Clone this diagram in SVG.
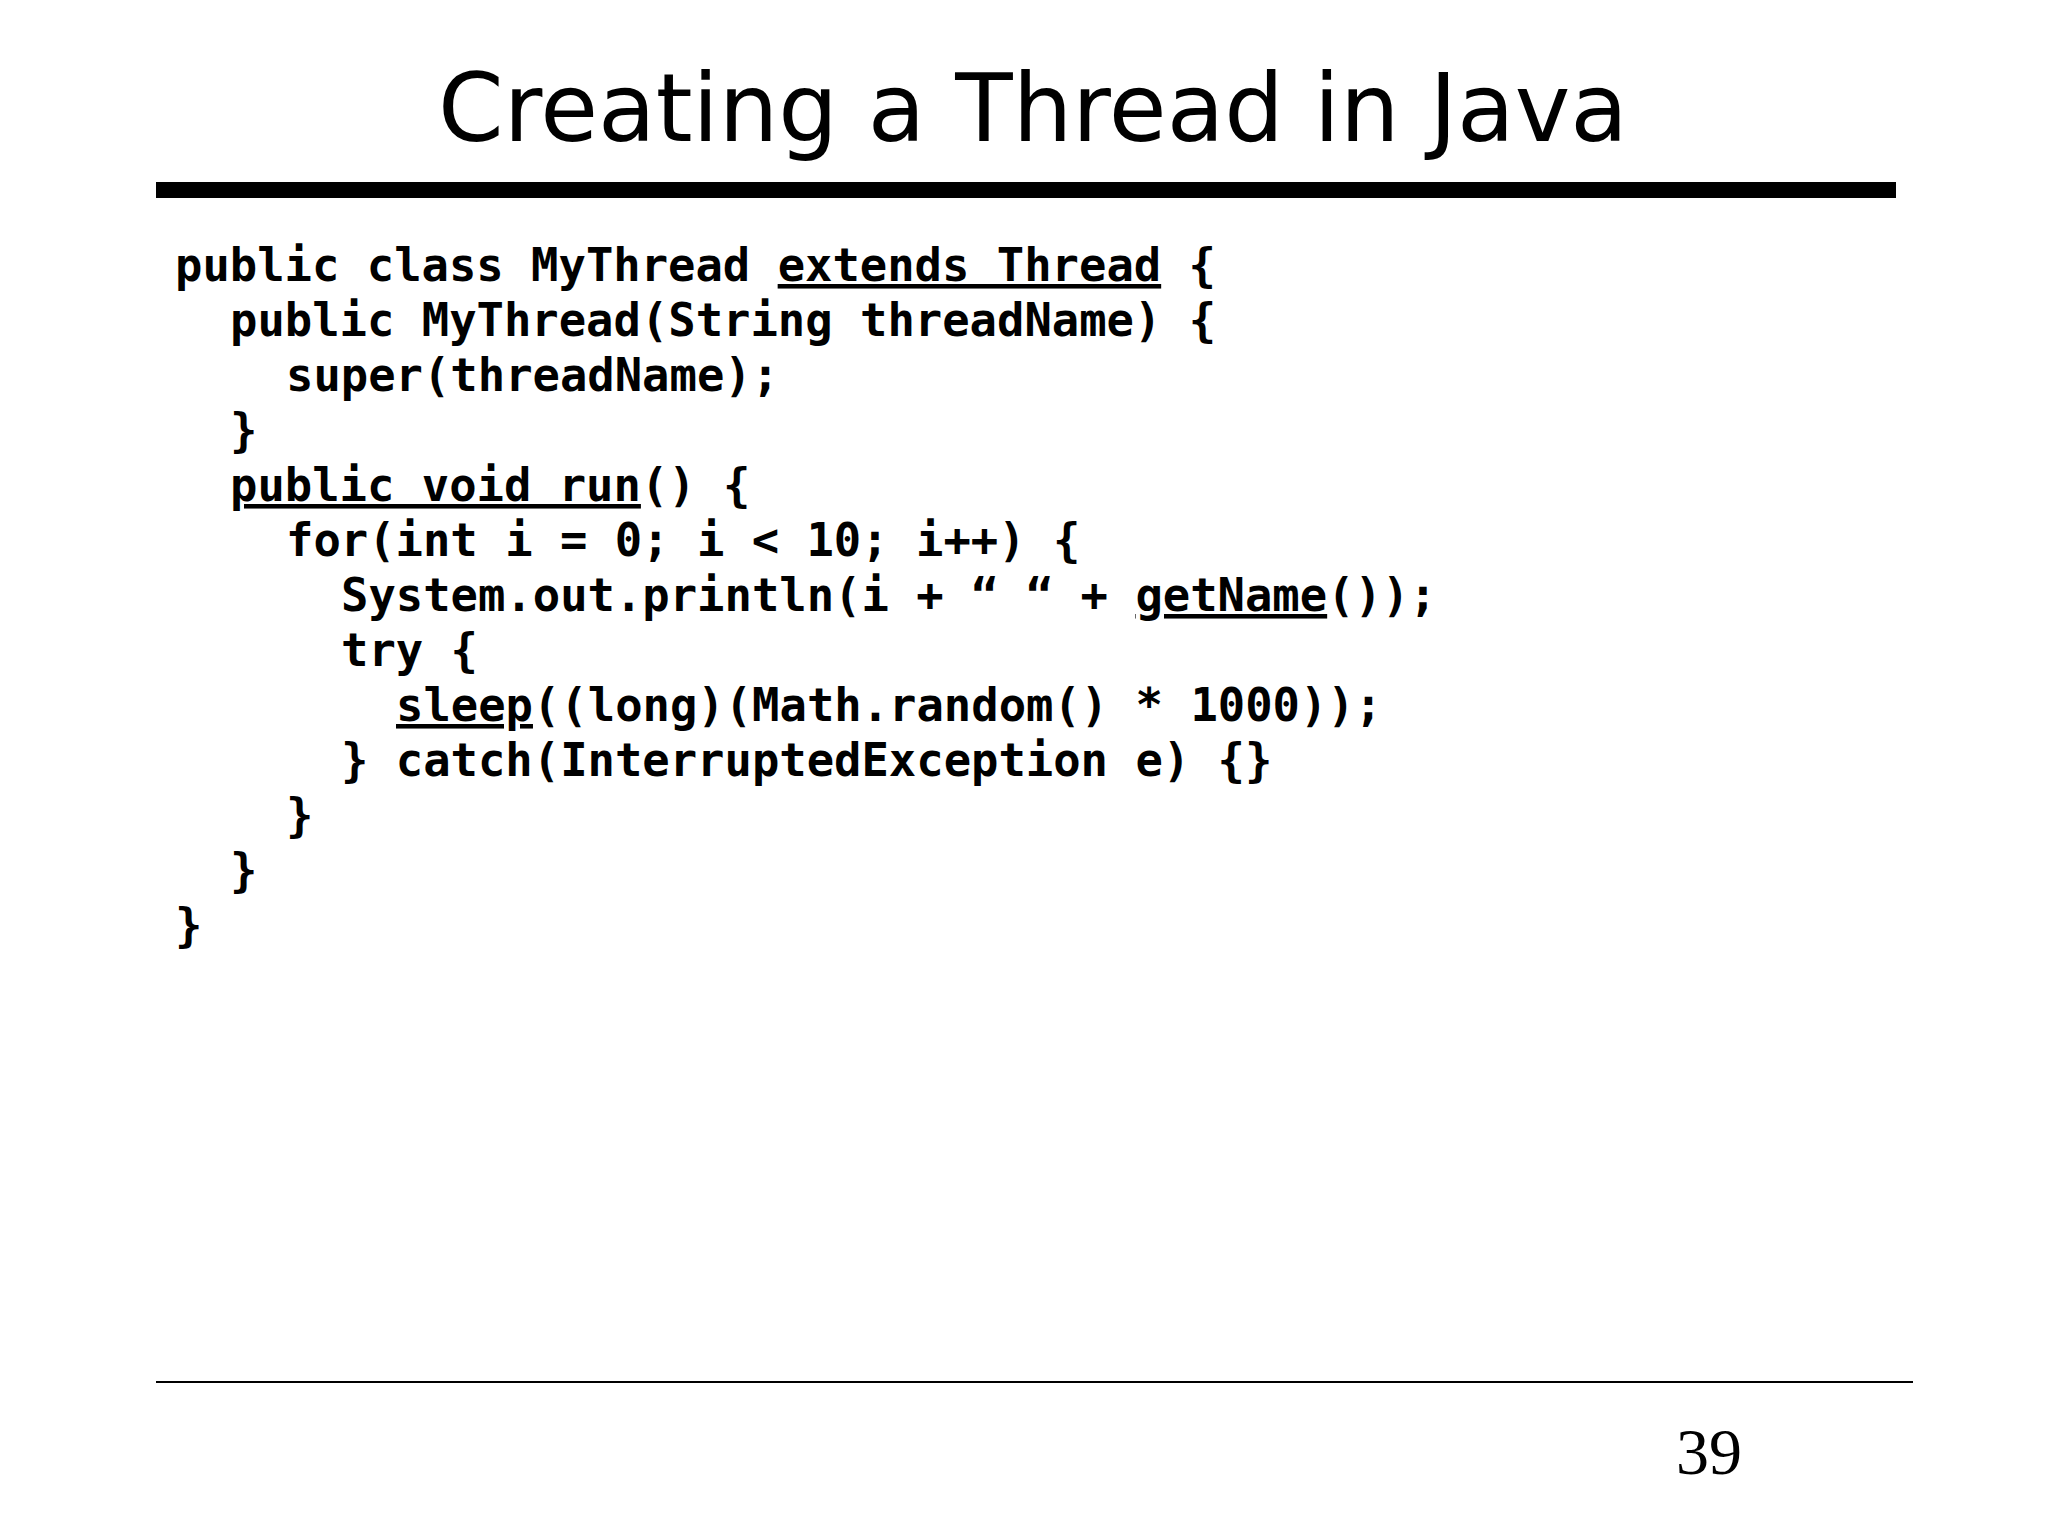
<svg xmlns="http://www.w3.org/2000/svg" width="2048" height="1536" viewBox="0 0 2048 1536">
<style>
.code{font-family:"DejaVu Sans Mono","Liberation Mono",monospace;font-weight:bold;font-size:45.5px;fill:#000}
.u{text-decoration:underline}
</style>
<rect width="2048" height="1536" fill="#fff"/>
<text x="1033" y="141" text-anchor="middle" font-family="DejaVu Sans, sans-serif" font-size="94" fill="#000">Creating a Thread in Java</text>
<rect x="156" y="182" width="1740" height="16" fill="#000"/>
<g id="code" class="code">
<text x="175" y="281">public class MyThread <tspan class="u">extends Thread</tspan> {</text>
<text x="230" y="336">public MyThread(String threadName) {</text>
<text x="286" y="391">super(threadName);</text>
<text x="230" y="446">}</text>
<text x="230" y="501"><tspan class="u">public void run</tspan>() {</text>
<text x="286" y="556">for(int i = 0; i &lt; 10; i++) {</text>
<text x="341" y="611">System.out.println(i + “ “ + <tspan class="u">getName</tspan>());</text>
<text x="341" y="666">try {</text>
<text x="396" y="721"><tspan class="u">sleep</tspan>((long)(Math.random() * 1000));</text>
<text x="341" y="776">} catch(InterruptedException e) {}</text>
<text x="286" y="831">}</text>
<text x="230" y="886">}</text>
<text x="175" y="941">}</text>
</g>
<line x1="156" y1="1382" x2="1913" y2="1382" stroke="#000" stroke-width="2"/>
<text x="1709" y="1474" text-anchor="middle" font-family="Liberation Serif, serif" font-size="66" fill="#000">39</text>
</svg>
